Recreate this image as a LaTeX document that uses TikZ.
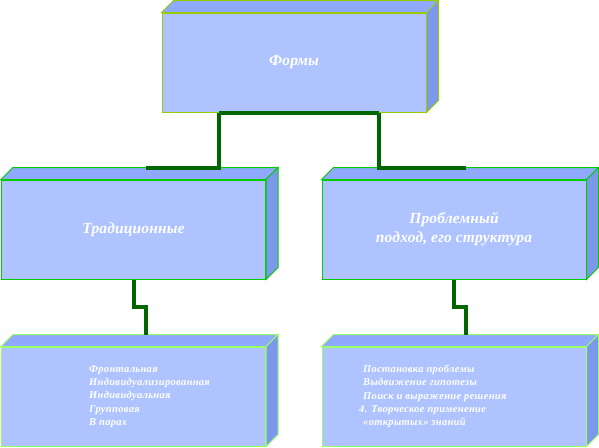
\documentclass[tikz,border=0pt]{standalone}
\usepackage{fontspec}
\setmainfont{Liberation Serif}
\newfontfamily\boxfont[LetterSpace=1]{Liberation Serif}
\newfontfamily\listfont[LetterSpace=3]{Liberation Serif}
\usetikzlibrary{calc}
\definecolor{frontc}{HTML}{AEC3FF}
\definecolor{topc}{HTML}{8EA9FE}
\definecolor{sidec}{HTML}{7C98EC}
\definecolor{borderA}{HTML}{99CC00}
\definecolor{borderB}{HTML}{00CC00}
\definecolor{borderC}{HTML}{99FF66}
\definecolor{connc}{HTML}{006600}
\tikzset{
  front/.style={fill=frontc, line width=1pt, minimum width=264pt, minimum height=99pt, inner sep=0pt, text=white},
  title/.style={font=\boxfont\fontsize{15.5pt}{19pt}\selectfont\bfseries\itshape},
  conn/.style={draw=connc, line width=4pt},
  listtext/.style={text=white, font=\listfont\fontsize{10.5pt}{13.3pt}\selectfont\bfseries\itshape, align=left, anchor=west, inner sep=0pt}
}
\newcommand{\threed}[2]{%
  \filldraw[fill=topc, draw=#2, line width=1pt] (#1.north west) -- ++(12,-12) -- ([shift={(12,-12)}]#1.north east) -- (#1.north east) -- cycle;
  \filldraw[fill=sidec, draw=#2, line width=1pt] (#1.north east) -- ++(12,-12) -- ([shift={(12,-12)}]#1.south east) -- (#1.south east) -- cycle;
}
\begin{document}
\begin{tikzpicture}[x=1pt, y=-1pt]
\useasboundingbox (0,0) rectangle (599,447);
% boxes
\node[front, draw=borderA, title] (forms) at (294,62.5) {Формы};
\threed{forms}{borderA}
\node[front, draw=borderB, title] (trad) at (133.5,229.5) {Традиционные};
\threed{trad}{borderB}
\node[front, draw=borderB, align=center, title] (prob) at (454,229.5) {Проблемный\\подход, его структура};
\threed{prob}{borderB}
\node[front, draw=borderC] (kinds) at (133.5,396.5) {};
\threed{kinds}{borderC}
\node[front, draw=borderC] (steps) at (454,396.5) {};
\threed{steps}{borderC}
% list texts
\node[listtext] (kindstext) at (89,396.5) {Фронтальная\\Индивидуализированная\\Индивидуальная\\Групповая\\В парах};
\node[listtext] (stepstext) at (359,396.5) {\hspace*{4pt}Постановка проблемы\\\hspace*{4pt}Выдвижение гипотезы\\\hspace*{4pt}Поиск и выражение решения\\4. Творческое применение\\\hspace*{4pt}«открытых» знаний};
% back-edge centres
\coordinate (tradback) at ([shift={(12,-12)}]trad.north);
\coordinate (probback) at ([shift={(12,-12)}]prob.north);
\coordinate (kindsback) at ([shift={(12,-12)}]kinds.north);
\coordinate (stepsback) at ([shift={(12,-12)}]steps.north);
\coordinate (fl) at ([xshift=-75pt]forms.south);
\coordinate (fr) at ([xshift=85pt]forms.south);
% connectors
\draw[conn] (fl) -- (fr);
\draw[conn] (fl) |- (tradback);
\draw[conn] (fr) |- (probback);
\draw[conn] (trad.south) -- ++(0,27) -| (kindsback);
\draw[conn] (prob.south) -- ++(0,27) -| (stepsback);
\end{tikzpicture}
\end{document}
